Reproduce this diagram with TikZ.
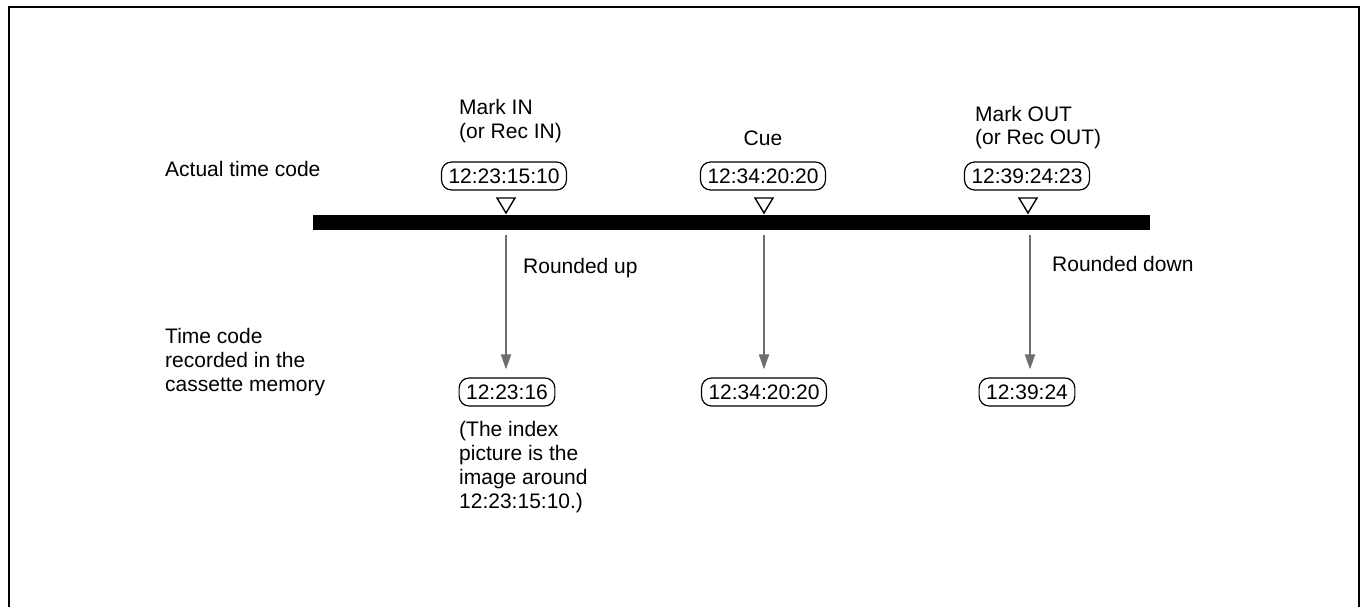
\documentclass[tikz,border=0pt]{standalone}
\usepackage{fontspec}
\setmainfont{Liberation Sans}
\usetikzlibrary{arrows.meta}
\definecolor{arrowgray}{HTML}{6E6E6E}
\begin{document}
\begin{tikzpicture}[x=1pt,y=-1pt,
  every node/.style={font=\fontsize{21}{24}\selectfont, inner sep=0pt},
  lbl/.style={anchor=base west, align=left},
  tcbox/.style={draw, line width=1.2pt, rounded corners=10pt, minimum height=28pt, inner xsep=7pt},
  marker/.style={draw, line width=1.4pt},
  conn/.style={draw=arrowgray, line width=2pt, -{Triangle[length=15pt,width=10pt]}, shorten >=8pt}
]
\useasboundingbox (0,0) rectangle (1365,607);
% frame
\draw[line width=2pt] (9,612) -- (9,7) -- (1359,7) -- (1359,612);
% labels (base anchor = baseline of last line)
\node[lbl] (actual) at (165,176) {Actual time code};
\node[lbl] (recorded) at (165,391) {Time code\\recorded in the\\cassette memory};
% top labels
\node[lbl] (markin) at (459,139) {Mark IN\\(or Rec IN)};
\node[anchor=base] (cue) at (763,146) {Cue};
\node[lbl] (markout) at (975,145) {Mark OUT\\(or Rec OUT)};
% actual boxes
\node[tcbox] (t1) at (504,176) {12:23:15:10};
\node[tcbox] (t2) at (763,176) {12:34:20:20};
\node[tcbox] (t3) at (1027,176) {12:39:24:23};
% markers
\draw[marker] (497,198) -- (515,198) -- (506,213) -- cycle;
\draw[marker] (755,198) -- (773,198) -- (764,213) -- cycle;
\draw[marker] (1019,198) -- (1037,198) -- (1028,213) -- cycle;
% bar
\node[fill=black, minimum width=837pt, minimum height=15pt] (bar) at (731.5,222.5) {};
\coordinate (s1) at (506,235);
\coordinate (s2) at (764,235);
\coordinate (s3) at (1030,235);
% recorded boxes
\node[tcbox] (r1) at (507,392) {12:23:16};
\node[tcbox] (r2) at (764,392) {12:34:20:20};
\node[tcbox] (r3) at (1027,392) {12:39:24};
% arrows
\draw[conn] (s1) -- (s1 |- r1.north);
\draw[conn] (s2) -- (s2 |- r2.north);
\draw[conn] (s3) -- (s3 |- r3.north);
\node[lbl] (up) at (523,273) {Rounded up};
\node[lbl] (down) at (1052,271) {Rounded down};
\node[lbl] (index) at (459,508) {(The index\\picture is the\\image around\\12:23:15:10.)};
\end{tikzpicture}
\end{document}
